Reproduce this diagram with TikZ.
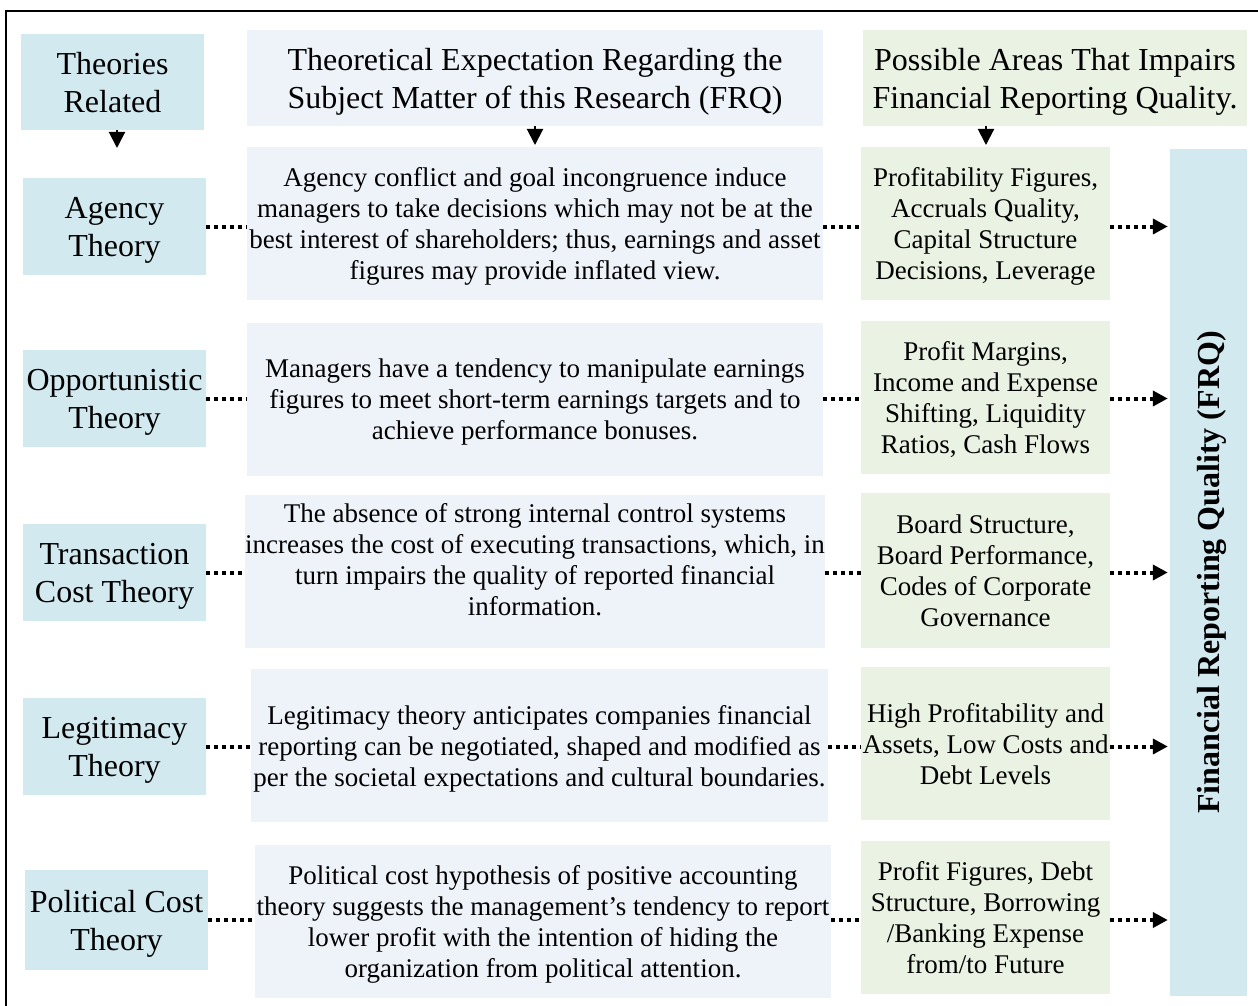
\documentclass[tikz,border=0pt]{standalone}
\usepackage{fontspec}
\setmainfont{Liberation Serif}
\usepackage{xcolor}
\usetikzlibrary{positioning,calc,arrows.meta}

\definecolor{thblue}{RGB}{210,233,240}
\definecolor{exblue}{RGB}{238,243,250}
\definecolor{argreen}{RGB}{234,242,227}

\tikzset{
  box/.style={inner sep=0pt, align=center},
  bigtext/.style={font=\fontsize{32}{38}\selectfont, text depth=-9pt},
  smalltext/.style={font=\fontsize{27}{31}\selectfont, text depth=-6pt},
  theory/.style={box, bigtext, fill=thblue, minimum width=183pt, minimum height=97pt},
  expect/.style={box, smalltext, fill=exblue, minimum width=576pt, minimum height=153pt},
  area/.style={box, smalltext, fill=argreen, minimum width=249pt, minimum height=153pt},
  head/.style={box, bigtext, minimum height=96pt},
  dotline/.style={line width=4pt, dash pattern=on 4pt off 4pt},
  dotarrow/.style={dotline, -{Triangle[width=15pt,length=15pt]}, shorten >=2pt},
  downarrow/.style={line width=2pt, -{Triangle[width=16pt,length=16pt]}}
}

\begin{document}
\begin{tikzpicture}[x=1pt,y=-1pt]
\useasboundingbox (0,0) rectangle (1258,1006);
\draw[line width=2.5pt] (6,11) rectangle (1270,1020);

% column heads
\node[head, fill=thblue, minimum width=183pt] (hTh) at (112.5,82) {Theories\\Related};
\node[head, fill=exblue, minimum width=576pt] (hEx) at (535,78) {Theoretical Expectation Regarding the\\Subject Matter of this Research (FRQ)};
\node[head, fill=argreen, minimum width=384pt] (hAr) at (1055,78) {Possible Areas That Impairs\\Financial Reporting Quality.};

\coordinate (dTh) at (117,148);
\coordinate (dEx) at (535,145);
\coordinate (dAr) at (986,145);
\draw[downarrow] (hTh.south -| dTh) -- (dTh);
\draw[downarrow] (hEx.south -| dEx) -- (dEx);
\draw[downarrow] (hAr.south -| dAr) -- (dAr);

% theories
\node[theory] (th1) at (114.5,226.5) {Agency\\Theory};
\node[theory] (th2) at (114.5,398.5) {Opportunistic\\Theory};
\node[theory] (th3) at (114.5,572.5) {Transaction\\Cost Theory};
\node[theory] (th4) at (114.5,746.5) {Legitimacy\\Theory};
\node[theory, minimum height=100pt] (th5) at (116.5,920) {Political Cost\\Theory};

% expectations
\node[expect] (ex1) at (535,223.5) {Agency conflict and goal incongruence induce\\managers to take decisions which may not be at the\\best interest of shareholders; thus, earnings and asset\\figures may provide inflated view.};
\node[expect] (ex2) at (535,399.5) {Managers have a tendency to manipulate earnings\\figures to meet short-term earnings targets and to\\achieve performance bonuses.};
\node[expect, text depth=25pt] (ex3) at (535,571.5) {The absence of strong internal control systems\\increases the cost of executing transactions, which, in\\turn impairs the quality of reported financial\\information.};
\node[expect, minimum width=577pt] (ex4) at (539.5,745.5) {Legitimacy theory anticipates companies financial\\reporting can be negotiated, shaped and modified as\\per the societal expectations and cultural boundaries.};
\node[expect] (ex5) at (543,921.5) {Political cost hypothesis of positive accounting\\theory suggests the management’s tendency to report\\lower profit with the intention of hiding the\\organization from political attention.};

% impaired areas
\node[area] (ar1) at (985.5,223.5) {Profitability Figures,\\Accruals Quality,\\Capital Structure\\Decisions, Leverage};
\node[area] (ar2) at (985.5,397.5) {Profit Margins,\\Income and Expense\\Shifting, Liquidity\\Ratios, Cash Flows};
\node[area, minimum height=155pt] (ar3) at (985.5,570.5) {Board Structure,\\Board Performance,\\Codes of Corporate\\Governance};
\node[area] (ar4) at (985.5,743.5) {High Profitability and\\Assets, Low Costs and\\Debt Levels};
\node[area] (ar5) at (985.5,917.5) {Profit Figures, Debt\\Structure, Borrowing\\/Banking Expense\\from/to Future};

\node[box, fill=thblue, minimum width=847pt, minimum height=77pt, rotate=90, text depth=0pt,
      font=\fontsize{32}{38}\selectfont\bfseries] (frq) at (1208.5,572.5) {Financial Reporting Quality (FRQ)};

\foreach \i in {1,...,5}{
  \draw[dotline] (th\i.east) -- (th\i.east -| ex\i.west);
  \draw[dotline] (th\i.east -| ex\i.east) -- (th\i.east -| ar\i.west);
  \draw[dotarrow] (th\i.east -| ar\i.east) -- (th\i.east -| frq.north);
}
\end{tikzpicture}
\end{document}
